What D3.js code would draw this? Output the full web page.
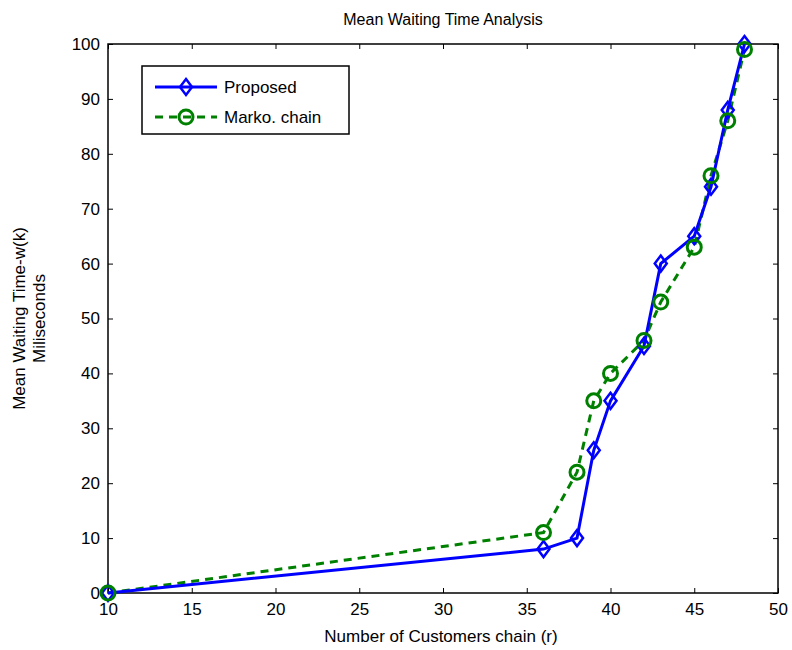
<!DOCTYPE html>
<html>
<head>
<meta charset="utf-8">
<script src="https://cdn.jsdelivr.net/npm/d3@7"></script>
<style>
body { margin: 0; background: #fff; }
text { font-family: "Liberation Sans", Arial, sans-serif; fill: #000; }
</style>
</head>
<body>
<svg width="792" height="650"></svg>
<script>
// data
var customers = [10, 36, 38, 39, 40, 42, 43, 45, 46, 47, 48];
var proposed = [0, 8, 10, 26, 35, 45, 60, 65, 74, 88, 100];
var markov = [0, 11, 22, 35, 40, 46, 53, 63, 76, 86, 99];
var xTicks = [10, 15, 20, 25, 30, 35, 40, 45, 50];
var yTicks = [0, 10, 20, 30, 40, 50, 60, 70, 80, 90, 100];

var svg = d3.select('svg');
// note: "top" is taken by window.top, so plot edges get their own names
var plotL = 108, plotR = 778, plotT = 44, plotB = 593;

var x = d3.scaleLinear().domain([10, 50]).range([plotL, plotR]);
var y = d3.scaleLinear().domain([0, 100]).range([plotB, plotT]);

// axes, matlab style: ticks inside, box all round
function styleAxis(g) {
    g.select('.domain').remove();
    g.selectAll('line').attr('stroke', '#000');
    g.selectAll('text').style('font-size', '17px');
}
svg.append('g').attr('transform', 'translate(0,' + plotB + ')')
    .call(d3.axisBottom(x).tickValues(xTicks).tickSizeInner(-5).tickSizeOuter(0).tickPadding(10))
    .call(styleAxis);
svg.append('g').attr('transform', 'translate(0,' + plotT + ')')
    .call(d3.axisTop(x).tickValues(xTicks).tickSizeInner(-5).tickSizeOuter(0).tickFormat(''))
    .call(styleAxis);
svg.append('g').attr('transform', 'translate(' + plotL + ',0)')
    .call(d3.axisLeft(y).tickValues(yTicks).tickSizeInner(-5).tickSizeOuter(0).tickPadding(8))
    .call(styleAxis);
svg.append('g').attr('transform', 'translate(' + plotR + ',0)')
    .call(d3.axisRight(y).tickValues(yTicks).tickSizeInner(-5).tickSizeOuter(0).tickFormat(''))
    .call(styleAxis);

svg.append('rect')
    .attr('x', plotL).attr('y', plotT)
    .attr('width', plotR - plotL).attr('height', plotB - plotT)
    .attr('fill', 'none').attr('stroke', '#000').attr('stroke-width', 1.5);

// labels
svg.append('text').attr('x', (plotL + plotR) / 2).attr('y', 25)
    .attr('text-anchor', 'middle').style('font-size', '16px')
    .text('Mean Waiting Time Analysis');
svg.append('text').attr('x', (plotL + plotR) / 2 - 2).attr('y', 642)
    .attr('text-anchor', 'middle').style('font-size', '17px')
    .text('Number of Customers chain (r)');
svg.append('text').attr('transform', 'translate(25,' + ((plotT + plotB) / 2) + ') rotate(-90)')
    .attr('text-anchor', 'middle').style('font-size', '17px')
    .text('Mean Waiting Time-w(k)');
svg.append('text').attr('transform', 'translate(45,' + ((plotT + plotB) / 2) + ') rotate(-90)')
    .attr('text-anchor', 'middle').style('font-size', '17px')
    .text('Miliseconds');

var blue = '#0000ff', green = '#008000';
var line = d3.line().x(function(d) { return x(d[0]); }).y(function(d) { return y(d[1]); });

var blueData = customers.map(function(c, i) { return [c, proposed[i]]; });
var greenData = customers.map(function(c, i) { return [c, markov[i]]; });

svg.append('path').datum(greenData).attr('d', line)
    .attr('fill', 'none').attr('stroke', green).attr('stroke-width', 3)
    .attr('stroke-dasharray', '8,6');
svg.append('path').datum(blueData).attr('d', line)
    .attr('fill', 'none').attr('stroke', blue).attr('stroke-width', 3);

function diamond(g) {
    g.append('path').attr('d', 'M0,-8L6,0L0,8L-6,0Z')
        .attr('fill', 'none').attr('stroke', blue).attr('stroke-width', 2.5);
}
function circle(g) {
    g.append('circle').attr('r', 7)
        .attr('fill', 'none').attr('stroke', green).attr('stroke-width', 3);
}

svg.selectAll('.bm').data(blueData).enter().append('g')
    .attr('class', 'bm')
    .attr('transform', function(d) { return 'translate(' + x(d[0]) + ',' + y(d[1]) + ')'; })
    .each(function() { diamond(d3.select(this)); });
svg.selectAll('.gm').data(greenData).enter().append('g')
    .attr('class', 'gm')
    .attr('transform', function(d) { return 'translate(' + x(d[0]) + ',' + y(d[1]) + ')'; })
    .each(function() { circle(d3.select(this)); });

// legend
var lg = svg.append('g').attr('transform', 'translate(142,66)');
lg.append('rect').attr('width', 207).attr('height', 68)
    .attr('fill', '#fff').attr('stroke', '#000').attr('stroke-width', 1.5);
lg.append('line').attr('x1', 13).attr('x2', 75).attr('y1', 21).attr('y2', 21)
    .attr('stroke', blue).attr('stroke-width', 3);
diamond(lg.append('g').attr('transform', 'translate(44,21)'));
lg.append('text').attr('x', 82).attr('y', 27).style('font-size', '17px').text('Proposed');
lg.append('line').attr('x1', 13).attr('x2', 75).attr('y1', 51).attr('y2', 51)
    .attr('stroke', green).attr('stroke-width', 3).attr('stroke-dasharray', '8,6');
circle(lg.append('g').attr('transform', 'translate(44,51)'));
lg.append('text').attr('x', 82).attr('y', 57).style('font-size', '17px').text('Marko. chain');
</script>
</body>
</html>
